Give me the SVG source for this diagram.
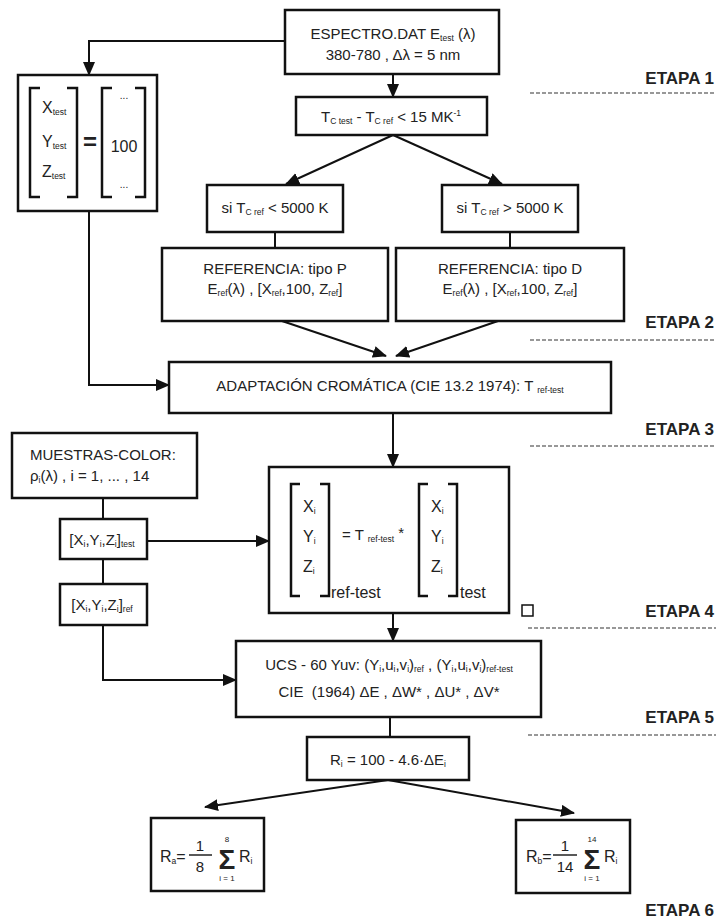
<svg xmlns="http://www.w3.org/2000/svg" width="716" height="919" viewBox="0 0 716 919">
<style>
.box{fill:#fff;stroke:#111;stroke-width:2.5}
.br{fill:none;stroke:#111;stroke-width:2.5}
.ln{fill:none;stroke:#111;stroke-width:2}
.ar{fill:none;stroke:#111;stroke-width:2;marker-end:url(#ah)}
.t{font-family:"Liberation Sans",Arial,sans-serif;font-size:15px;fill:#222}
.c{text-anchor:middle}
.s{font-size:8.5px}
.et{font-family:"Liberation Sans",Arial,sans-serif;font-weight:bold;font-size:17px;fill:#222;text-anchor:end}
.dash{stroke:#777;stroke-width:1.5;stroke-dasharray:4 2}
</style>
<defs>
<marker id="ah" markerUnits="userSpaceOnUse" markerWidth="14" markerHeight="12" refX="13" refY="6" orient="auto">
<path d="M0,0 L14,6 L0,12 z" fill="#111"/>
</marker>
</defs>
<rect width="716" height="919" fill="#fff"/>

<g id="connectors">
<polyline class="ar" points="285,41 89,41 89,75"/>
<line class="ar" x1="393" y1="74" x2="393" y2="97"/>
<line class="ar" x1="393" y1="135" x2="286" y2="184"/>
<line class="ar" x1="393" y1="135" x2="502" y2="184"/>
<line class="ln" x1="275" y1="232" x2="275" y2="248"/>
<line class="ln" x1="510" y1="232" x2="510" y2="248"/>
<line class="ar" x1="282" y1="321" x2="386" y2="356"/>
<line class="ar" x1="498" y1="321" x2="396" y2="356"/>
<polyline class="ar" points="89,211 89,385 169,385"/>
<line class="ar" x1="393" y1="413" x2="393" y2="467"/>
<line class="ln" x1="103" y1="498" x2="103" y2="519"/>
<line class="ln" x1="103" y1="559" x2="103" y2="584"/>
<line class="ar" x1="147" y1="541" x2="269" y2="541"/>
<line class="ar" x1="393" y1="613" x2="393" y2="641"/>
<polyline class="ar" points="103,625 103,680 236,680"/>
<line class="ln" x1="390" y1="717" x2="390" y2="737"/>
<line class="ar" x1="388" y1="780" x2="205" y2="807"/>
<line class="ar" x1="388" y1="780" x2="574" y2="813"/>
</g>

<g id="espectro">
<rect class="box" x="285" y="10" width="214" height="64"/>
<text class="t c" x="393" y="39">ESPECTRO.DAT E<tspan class="s" dy="2">test</tspan><tspan dy="-2"> (λ)</tspan></text>
<text class="t c" x="393" y="60">380-780 , Δλ = 5 nm</text>
</g>

<g id="tc">
<rect class="box" x="296" y="97" width="191" height="38"/>
<text class="t c" x="391" y="122">T<tspan class="s" dy="2">C test</tspan><tspan dy="-2"> - T</tspan><tspan class="s" dy="2">C ref</tspan><tspan dy="-2">  &lt; 15 MK</tspan><tspan class="s" dy="-6">-1</tspan></text>
</g>

<g id="xyz-test">
<rect class="box" x="18" y="75" width="139" height="136"/>
<path class="br" d="M40,88 H30 V197 H40"/>
<path class="br" d="M67,88 H77 V197 H67"/>
<path class="br" d="M112,88 H102 V197 H112"/>
<path class="br" d="M135,88 H145 V197 H135"/>
<text class="t" style="font-size:16px" x="42" y="113">X<tspan class="s" dy="2">test</tspan></text>
<text class="t" style="font-size:16px" x="42" y="147">Y<tspan class="s" dy="2">test</tspan></text>
<text class="t" style="font-size:16px" x="42" y="177">Z<tspan class="s" dy="2">test</tspan></text>
<text class="t c" style="font-size:24px;font-weight:bold" x="90" y="150">=</text>
<text class="t c" style="font-size:10px" x="124" y="99">...</text>
<text class="t c" style="font-size:16px" x="124" y="152">100</text>
<text class="t c" style="font-size:10px" x="124" y="188">...</text>
</g>

<g id="si-menor">
<rect class="box" x="207" y="185" width="136" height="47"/>
<text class="t c" x="275" y="213">si T<tspan class="s" dy="2">C ref</tspan><tspan dy="-2"> &lt; 5000 K</tspan></text>
</g>

<g id="si-mayor">
<rect class="box" x="442" y="185" width="136" height="47"/>
<text class="t c" x="510" y="213">si T<tspan class="s" dy="2">C ref</tspan><tspan dy="-2"> &gt; 5000 K</tspan></text>
</g>

<g id="ref-p">
<rect class="box" x="162" y="248" width="226" height="73"/>
<text class="t c" x="275" y="274">REFERENCIA: tipo P</text>
<text class="t c" x="275" y="294">E<tspan class="s" dy="2">ref</tspan><tspan dy="-2">(λ) , [X</tspan><tspan class="s" dy="2">ref</tspan><tspan dy="-2">,100, Z</tspan><tspan class="s" dy="2">ref</tspan><tspan dy="-2">]</tspan></text>
</g>

<g id="ref-d">
<rect class="box" x="396" y="248" width="228" height="73"/>
<text class="t c" x="510" y="274">REFERENCIA: tipo D</text>
<text class="t c" x="510" y="294">E<tspan class="s" dy="2">ref</tspan><tspan dy="-2">(λ) , [X</tspan><tspan class="s" dy="2">ref</tspan><tspan dy="-2">,100, Z</tspan><tspan class="s" dy="2">ref</tspan><tspan dy="-2">]</tspan></text>
</g>

<g id="adaptacion">
<rect class="box" x="169" y="362" width="442" height="51"/>
<text class="t c" x="390" y="391">ADAPTACIÓN CROMÁTICA (CIE 13.2 1974): T <tspan class="s" dy="2">ref-test</tspan></text>
</g>

<g id="muestras">
<rect class="box" x="12" y="433" width="185" height="65"/>
<text class="t" x="30" y="460">MUESTRAS-COLOR:</text>
<text class="t" x="30" y="481">ρ<tspan class="s" dy="2">i</tspan><tspan dy="-2">(λ) , i = 1, ... , 14</tspan></text>
</g>

<g id="xyz-test-i">
<rect class="box" x="60" y="519" width="87" height="40"/>
<text class="t c" x="102" y="545">[X<tspan class="s" dy="2">i</tspan><tspan dy="-2">,Y</tspan><tspan class="s" dy="2">i</tspan><tspan dy="-2">,Z</tspan><tspan class="s" dy="2">i</tspan><tspan dy="-2">]</tspan><tspan class="s" dy="2">test</tspan></text>
</g>

<g id="xyz-ref-i">
<rect class="box" x="60" y="584" width="87" height="41"/>
<text class="t c" x="102" y="610">[X<tspan class="s" dy="2">i</tspan><tspan dy="-2">,Y</tspan><tspan class="s" dy="2">i</tspan><tspan dy="-2">,Z</tspan><tspan class="s" dy="2">i</tspan><tspan dy="-2">]</tspan><tspan class="s" dy="2">ref</tspan></text>
</g>

<g id="transform">
<rect class="box" x="269" y="467" width="240" height="146"/>
<path class="br" d="M300,484 H291 V596 H300"/>
<path class="br" d="M320,484 H329 V596 H320"/>
<path class="br" d="M428,484 H419 V596 H428"/>
<path class="br" d="M448,484 H457 V596 H448"/>
<text class="t" style="font-size:16px" x="303" y="512">X<tspan class="s" dy="2">i</tspan></text>
<text class="t" style="font-size:16px" x="303" y="542">Y<tspan class="s" dy="2">i</tspan></text>
<text class="t" style="font-size:16px" x="303" y="572">Z<tspan class="s" dy="2">i</tspan></text>
<text class="t" style="font-size:16px" x="331" y="598">ref-test</text>
<text class="t" x="342" y="540">= T <tspan class="s" dy="2">ref-test</tspan><tspan dy="-4"> *</tspan></text>
<text class="t" style="font-size:16px" x="431" y="512">X<tspan class="s" dy="2">i</tspan></text>
<text class="t" style="font-size:16px" x="431" y="542">Y<tspan class="s" dy="2">i</tspan></text>
<text class="t" style="font-size:16px" x="431" y="572">Z<tspan class="s" dy="2">i</tspan></text>
<text class="t" style="font-size:16px" x="460" y="598">test</text>
</g>
<rect x="522" y="605" width="11" height="11" fill="#fff" stroke="#111" stroke-width="1.5"/>

<g id="ucs">
<rect class="box" x="236" y="641" width="305" height="76"/>
<text class="t c" x="389" y="670">UCS - 60 Yuv: (Y<tspan class="s" dy="2">i</tspan><tspan dy="-2">,u</tspan><tspan class="s" dy="2">i</tspan><tspan dy="-2">,v</tspan><tspan class="s" dy="2">i</tspan><tspan dy="-2">)</tspan><tspan class="s" dy="2">ref</tspan><tspan dy="-2"> , (Y</tspan><tspan class="s" dy="2">i</tspan><tspan dy="-2">,u</tspan><tspan class="s" dy="2">i</tspan><tspan dy="-2">,v</tspan><tspan class="s" dy="2">i</tspan><tspan dy="-2">)</tspan><tspan class="s" dy="2">ref-test</tspan></text>
<text class="t c" x="389" y="697" xml:space="preserve">CIE  (1964) ΔE , ΔW* , ΔU* , ΔV*</text>
</g>

<g id="ri">
<rect class="box" x="307" y="737" width="162" height="43"/>
<text class="t c" x="388" y="765">R<tspan class="s" dy="2">i</tspan><tspan dy="-2"> = 100 - 4.6·ΔE</tspan><tspan class="s" dy="2">i</tspan></text>
</g>

<g id="ra">
<rect class="box" x="151" y="818" width="113" height="73"/>
<text class="t" style="font-size:16px" x="160" y="862">R<tspan class="s" dy="2">a</tspan><tspan dy="-2">=</tspan></text>
<line x1="189" y1="855" x2="212" y2="855" stroke="#222" stroke-width="1.5"/>
<text class="t c" x="200" y="851">1</text>
<text class="t c" x="200" y="872">8</text>
<text class="t c" style="font-size:28px;font-weight:bold" x="227" y="869">Σ</text>
<text class="t c" style="font-size:8px" x="227" y="842">8</text>
<text class="t c" style="font-size:8px" x="227" y="881">i = 1</text>
<text class="t" style="font-size:16px" x="239" y="862">R<tspan class="s" dy="2">i</tspan></text>
</g>

<g id="rb">
<rect class="box" x="516" y="820" width="114" height="73"/>
<text class="t" style="font-size:16px" x="526" y="862">R<tspan class="s" dy="2">b</tspan><tspan dy="-2">=</tspan></text>
<line x1="553" y1="855" x2="577" y2="855" stroke="#222" stroke-width="1.5"/>
<text class="t c" x="565" y="851">1</text>
<text class="t c" x="565" y="872">14</text>
<text class="t c" style="font-size:28px;font-weight:bold" x="592" y="869">Σ</text>
<text class="t c" style="font-size:8px" x="592" y="842">14</text>
<text class="t c" style="font-size:8px" x="592" y="881">i = 1</text>
<text class="t" style="font-size:16px" x="604" y="862">R<tspan class="s" dy="2">i</tspan></text>
</g>

<g id="etapas">
<text class="et" x="714" y="84">ETAPA 1</text>
<line class="dash" x1="530" y1="93" x2="716" y2="93"/>
<text class="et" x="714" y="328">ETAPA 2</text>
<line class="dash" x1="530" y1="340" x2="716" y2="340"/>
<text class="et" x="714" y="435">ETAPA 3</text>
<line class="dash" x1="530" y1="446" x2="716" y2="446"/>
<text class="et" x="714" y="617">ETAPA 4</text>
<line class="dash" x1="528" y1="628" x2="716" y2="628"/>
<text class="et" x="714" y="723">ETAPA 5</text>
<line class="dash" x1="528" y1="735" x2="716" y2="735"/>
<text class="et" x="714" y="916">ETAPA 6</text>
</g>
</svg>
